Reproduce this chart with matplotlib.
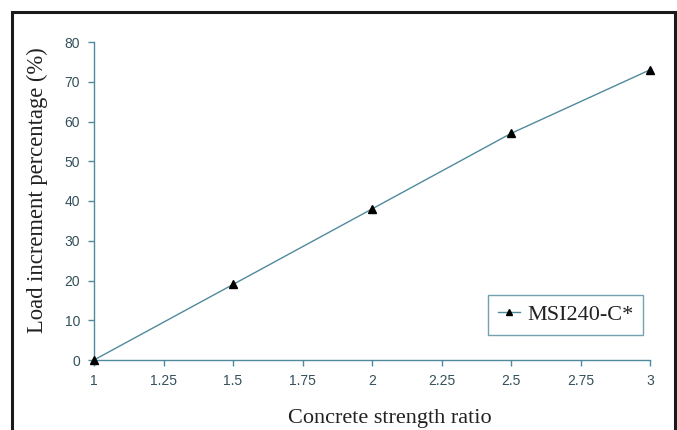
import matplotlib.pyplot as plt
from matplotlib.patches import Rectangle

# data
ratio = [1.0, 1.5, 2.0, 2.5, 3.0]
load_increment = [0, 19, 38, 57, 73]
series_name = "MSI240-C*"
x_ticks = [1, 1.25, 1.5, 1.75, 2, 2.25, 2.5, 2.75, 3]
x_tick_labels = ["1", "1.25", "1.5", "1.75", "2", "2.25", "2.5", "2.75", "3"]
y_ticks = [0, 10, 20, 30, 40, 50, 60, 70, 80]

C_AXIS = "#4f8a9c"
C_TICKLBL = "#33505c"
SERIF = ["Liberation Serif", "DejaVu Serif"]
SANS = ["Liberation Sans", "DejaVu Sans"]

W, H = 677, 430
fig = plt.figure(figsize=(W / 100, H / 100), dpi=100)
fig.patch.set_facecolor("white")

# axes placed in pixel terms: x 94..650, y 42..360 (from top)
ax = fig.add_axes([94 / W, 1 - 360 / H, (650 - 94) / W, (360 - 42) / H])
ax.plot(ratio, load_increment, color=C_AXIS, lw=1.0, marker="^",
        markersize=5.5, markerfacecolor="black", markeredgecolor="black",
        label=series_name, clip_on=False, zorder=3)

ax.set_xlim(1, 3)
ax.set_ylim(0, 80)
ax.set_xticks(x_ticks)
ax.set_xticklabels(x_tick_labels)
ax.set_yticks(y_ticks)

for side in ["top", "right"]:
    ax.spines[side].set_visible(False)
for side in ["left", "bottom"]:
    ax.spines[side].set_color(C_AXIS)
    ax.spines[side].set_linewidth(1.0)

ax.tick_params(axis="both", direction="out", length=4, width=1,
               color=C_AXIS, labelcolor=C_TICKLBL, labelsize=10, pad=6)
for lbl in ax.get_xticklabels() + ax.get_yticklabels():
    lbl.set_family(SANS)

ax.set_xlabel("Concrete strength ratio", family=SERIF, fontsize=16,
              color="#222222")
ax.set_ylabel("Load increment percentage (%)", family=SERIF, fontsize=16.3,
              color="#222222")
ax.xaxis.set_label_coords(0.532, -0.155)
ax.yaxis.set_label_coords(-0.083, 0.535)

leg = ax.legend(loc="lower right", bbox_to_anchor=(0.988, 0.078),
                prop={"family": SERIF, "size": 16}, frameon=True,
                fancybox=False, handlelength=1.0, handletextpad=0.3,
                borderpad=0.45, borderaxespad=0, markerscale=0.7)
leg.get_frame().set_edgecolor(C_AXIS)
leg.get_frame().set_linewidth(1.0)
for t in leg.get_texts():
    t.set_color("#222222")

# outer black frame (open at bottom edge of picture)
fig.patches.append(Rectangle((12 / W, -0.05), (675 - 12) / W, 1.05 - 12 / H,
                             transform=fig.transFigure, fill=False,
                             edgecolor="#1a1a1a", lw=2.2))

fig.savefig("out.png", dpi=100, facecolor=fig.get_facecolor())
